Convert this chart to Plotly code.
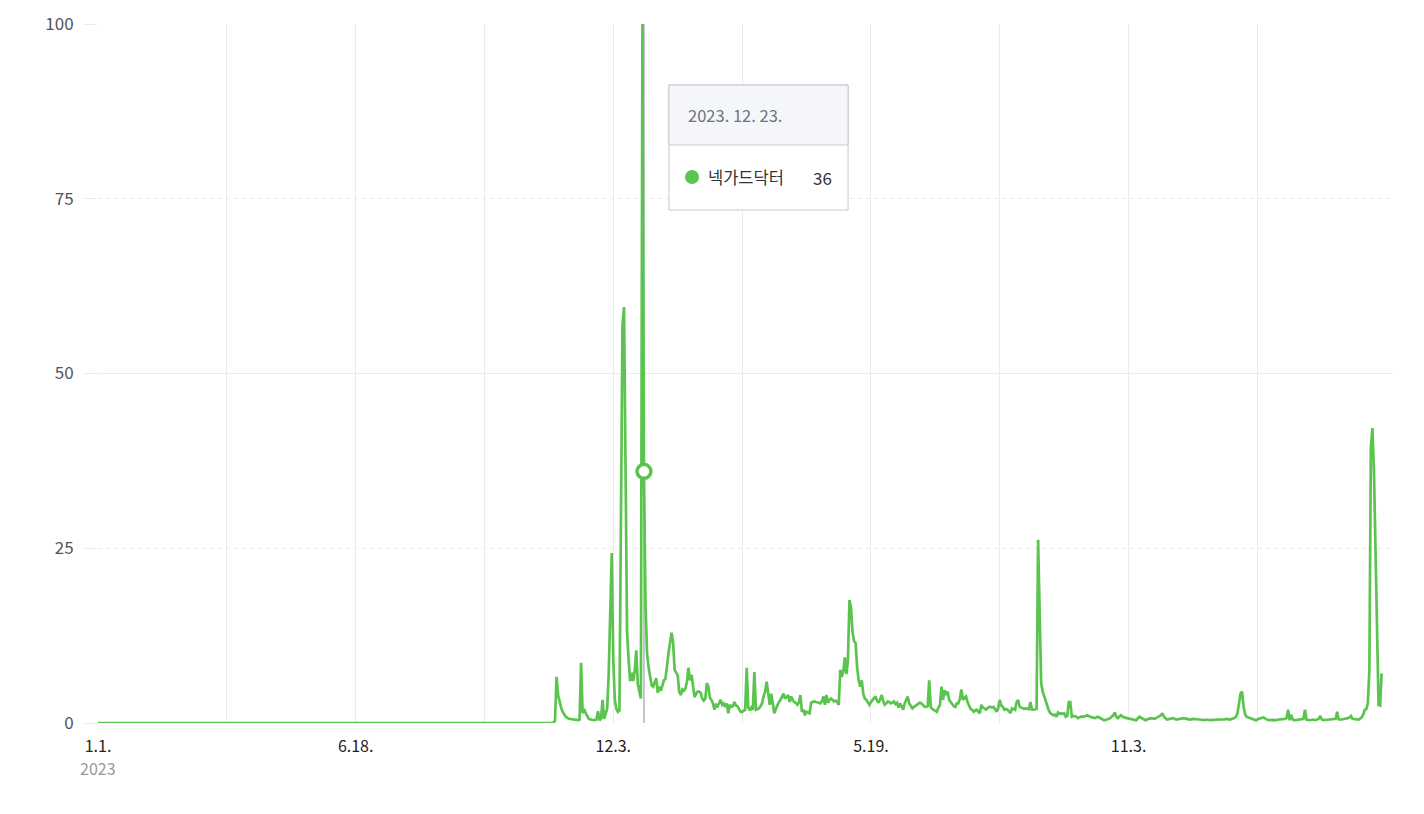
import pandas as pd
import plotly.graph_objects as go

# ---------------- data ----------------
SERIES_NAME = "넥가드닥터"
BASE_DATE = "2023-01-01"

# sparse readings before launch (days since BASE_DATE)
zero_days = [0, 31, 59, 90, 120, 151, 181, 212, 243, 273, 290, 297]
zero_values = [0, 0, 0, 0, 0, 0, 0, 0, 0, 0, 0, 0]

# late 2023 (days since BASE_DATE)
launch_days = [298, 299, 300, 301, 302, 303, 305, 307,
               310, 313, 314, 315, 316, 317, 318, 320, 323, 325,
               326, 327, 328, 329, 330, 331, 332, 333, 334, 335,
               336, 337, 338, 339, 340, 341, 342, 343, 344, 345,
               346, 347, 348, 349, 350, 351, 352, 353, 354, 355,
               356, 357, 358, 359, 360, 361, 362, 363, 364]
launch_values = [0.3, 6.6, 4.0, 3.0, 2.2, 1.6, 0.9, 0.6,
                 0.5, 0.4, 0.5, 8.6, 1.4, 2.0, 1.4, 0.6, 0.4, 0.5,
                 1.7, 0.4, 0.6, 3.3, 0.6, 1.2, 2.0, 7.0, 17.0, 24.3,
                 9.0, 3.3, 2.0, 1.6, 1.8, 30, 57, 59.5, 30, 13,
                 9, 6.0, 7.2, 6.0, 7.5, 10.4, 5.5, 4.5, 3.5, 100,
                 36, 17, 10, 8, 6.6, 5.4, 5.2, 5.8, 6.4]

# daily readings 2024-01-01 .. 2024-09-27
daily_2024_start = "2024-01-01"
daily_2024_values = [
    4.3, 5.2, 4.6, 5.5, 6.1, 6.3, 8.6, 10.0, 11.5, 12.9,
    11.5, 7.6, 7.2, 6.8, 4.5, 4.0, 4.8, 4.6, 4.9, 5.9,
    7.9, 6.1, 6.9, 5.0, 3.7, 4.2, 4.5, 4.5, 4.3, 3.5,
    3.2, 3.5, 5.7, 5.2, 3.6, 3.3, 2.8, 1.9, 2.6, 2.4,
    2.8, 3.3, 2.6, 2.8, 2.3, 2.8, 1.4, 2.6, 2.3, 2.4,
    3.0, 2.5, 2.4, 2.0, 1.6, 1.6, 1.8, 1.9, 7.9, 2.2,
    1.8, 2.2, 1.9, 7.3, 1.9, 2.0, 2.1, 2.4, 2.8, 3.8,
    4.5, 5.9, 3.8, 2.6, 4.2, 3.0, 1.4, 2.0, 2.6, 3.0,
    3.3, 3.8, 4.2, 3.5, 3.7, 4.0, 3.0, 3.8, 3.3, 3.0,
    2.9, 2.6, 2.9, 4.0, 1.6, 1.9, 1.1, 1.6, 1.5, 1.4,
    2.9, 3.0, 3.1, 3.0, 3.0, 2.9, 2.8, 3.1, 3.8, 2.6,
    4.0, 2.9, 3.3, 3.5, 3.3, 3.1, 3.2, 3.0, 2.6, 7.6,
    6.6, 7.4, 9.4, 7.0, 9.0, 17.6, 16.5, 13.0, 11.7, 11.4,
    8.0, 6.1, 5.2, 6.1, 4.2, 3.5, 3.3, 3.0, 2.6, 3.0,
    3.3, 3.5, 3.8, 3.2, 2.9, 3.4, 4.0, 3.1, 2.6, 2.8,
    3.1, 3.0, 2.8, 2.9, 3.1, 2.7, 2.9, 2.2, 2.8, 2.4,
    1.9, 2.8, 3.2, 3.8, 2.8, 2.4, 2.1, 2.3, 2.4, 2.6,
    2.8, 2.9, 2.8, 2.5, 2.3, 2.3, 2.4, 6.1, 2.3, 2.0,
    1.9, 1.7, 1.6, 2.2, 2.6, 5.2, 3.3, 4.7, 4.0, 4.5,
    3.3, 3.0, 2.6, 2.4, 2.3, 2.8, 2.8, 3.5, 4.8, 3.3,
    3.6, 3.8, 3.0, 2.4, 2.0, 1.9, 1.6, 1.8, 1.9, 1.6,
    1.4, 2.6, 2.2, 2.1, 1.9, 2.1, 2.3, 2.3, 2.2, 2.3,
    2.0, 1.6, 2.2, 3.3, 2.5, 2.3, 1.9, 2.0, 1.9, 1.6,
    1.4, 2.1, 2.0, 1.9, 3.0, 3.3, 2.3, 2.2, 2.1, 2.0,
    2.1, 2.1, 2.0, 3.0, 1.9, 1.9, 1.9, 2.0, 26.2, 13,
    5.7, 4.5, 3.8, 3.0, 2.4, 1.8, 1.4, 1.3, 1.1, 1.2,
    0.9, 1.5, 1.3, 1.4, 1.3, 1.4, 0.9, 1.0, 3.0, 3.0,
    0.9,
]

# later readings (days since BASE_DATE)
tail_days = [636, 638, 639, 641, 643, 645, 647, 649, 650, 652,
             654, 656, 658, 660, 662, 663, 664, 665, 667, 669,
             671, 673, 675, 677, 679, 681, 683, 685, 687, 689,
             691, 693, 694, 695, 697, 699, 701, 703, 706, 708,
             710, 712, 714, 716, 718, 721, 723, 725, 727, 729,
             731, 734, 736, 738, 740, 741, 742, 743, 744, 745,
             746, 747, 748, 749, 751, 753, 755, 757, 759, 760,
             762, 764, 766, 768, 770, 772, 774, 775, 776, 777,
             778, 779, 780, 782, 784, 786, 787, 788, 790, 792,
             794, 796, 797, 798, 799, 801, 803, 805, 807, 808,
             809, 811, 813, 815, 816, 817, 818, 820, 822, 824,
             825, 826, 827, 828, 829, 830, 831, 832, 833, 834,
             835, 836, 837]
tail_values = [1.0, 0.9, 0.7, 0.9, 0.9, 1.1, 0.9, 0.8, 0.7, 0.9,
               0.7, 0.4, 0.5, 0.7, 1.1, 1.5, 0.9, 0.7, 1.1, 0.8,
               0.7, 0.6, 0.4, 0.4, 0.9, 0.7, 0.4, 0.6, 0.7, 0.6,
               0.8, 1.1, 1.4, 0.9, 0.5, 0.6, 0.7, 0.5, 0.6, 0.7,
               0.6, 0.5, 0.6, 0.5, 0.5, 0.4, 0.5, 0.4, 0.45, 0.4,
               0.5, 0.5, 0.6, 0.5, 0.6, 0.7, 0.9, 1.4, 2.8, 4.2,
               4.5, 2.3, 1.2, 0.9, 0.7, 0.5, 0.4, 0.6, 0.8, 0.8,
               0.5, 0.4, 0.45, 0.4, 0.5, 0.5, 0.6, 0.7, 1.9, 0.4,
               1.2, 0.5, 0.4, 0.45, 0.5, 0.6, 1.9, 0.5, 0.4, 0.5,
               0.4, 0.6, 1.0, 0.5, 0.4, 0.5, 0.5, 0.55, 0.6, 1.6,
               0.5, 0.5, 0.55, 0.7, 0.8, 1.0, 0.6, 0.5, 0.5, 0.8,
               1.2, 1.9, 2.0, 2.8, 7.5, 39.5, 42.2, 36, 24, 12,
               2.6, 2.5, 7.1]

# axis ticks
x_grid_dates = ["2023-01-01", "2023-03-26", "2023-06-18", "2023-09-10", "2023-12-03",
                "2024-02-25", "2024-05-19", "2024-08-11", "2024-11-03", "2025-01-26"]
x_tick_labels = ["1.1.", "", "6.18.", "", "12.3.", "", "5.19.", "", "11.3.", ""]
first_year_label = "2023"
y_ticks = [0, 25, 50, 75, 100]
y_solid_ticks = [0, 50, 100]

# highlighted (tooltip) point
highlight_date = "2023-12-23"
highlight_label = "2023. 12. 23."
x_range = ["2023-01-01", "2025-04-24 10:00"]

# ---------------- build ----------------
base = pd.Timestamp(BASE_DATE)
dates = list(base + pd.to_timedelta(zero_days, unit="D"))
dates += list(base + pd.to_timedelta(launch_days, unit="D"))
dates += list(pd.date_range(daily_2024_start, periods=len(daily_2024_values), freq="D"))
dates += list(base + pd.to_timedelta(tail_days, unit="D"))
values = zero_values + launch_values + daily_2024_values + tail_values

df = pd.DataFrame({"date": dates, "value": values})
hl = df[df["date"] == pd.Timestamp(highlight_date)].iloc[0]

GREEN = "#5ac44e"
GRID = "#ebebeb"
FONT = "Noto Sans CJK KR"

fig = go.Figure()
fig.add_trace(go.Scatter(
    x=df["date"], y=df["value"], mode="lines", name=SERIES_NAME,
    line=dict(color=GREEN, width=2.7), hoverinfo="skip", showlegend=False,
))
fig.add_trace(go.Scatter(
    x=[hl["date"]], y=[hl["value"]], mode="markers", name=SERIES_NAME,
    marker=dict(size=14, color="white", line=dict(color=GREEN, width=3.5)),
    hoverinfo="skip", showlegend=False,
))

# crosshair
fig.add_shape(type="line", xref="x", yref="y", x0=hl["date"], x1=hl["date"], y0=0, y1=100,
              line=dict(color="#aeb5c3", width=1.5), layer="below")

# tooltip box (paper coordinates)
tx0, tx1 = 0.4409, 0.5792
ty0, ty1, tsep = 0.7339, 0.9127, 0.8269
fig.add_shape(type="rect", xref="paper", yref="paper", x0=tx0, x1=tx1, y0=ty0, y1=ty1,
              fillcolor="white", line=dict(color="#c9c9c9", width=1), layer="above")
fig.add_shape(type="rect", xref="paper", yref="paper", x0=tx0, x1=tx1, y0=tsep, y1=ty1,
              fillcolor="#f5f6f9", line=dict(color="#c9c9c9", width=1), layer="above")
fig.add_shape(type="circle", xref="paper", yref="paper",
              x0=0.4587 - 0.0054, x1=0.4587 + 0.0054, y0=0.7811 - 0.0100, y1=0.7811 + 0.0100,
              fillcolor=GREEN, line=dict(color=GREEN, width=0), layer="above")
fig.add_annotation(xref="paper", yref="paper", x=0.4540, y=0.8698, xanchor="left", yanchor="middle",
                   text=highlight_label, showarrow=False,
                   font=dict(family=FONT, size=16.5, color="#6b7482"))
fig.add_annotation(xref="paper", yref="paper", x=0.4695, y=0.7811, xanchor="left", yanchor="middle",
                   text=SERIES_NAME, showarrow=False,
                   font=dict(family=FONT, size=16.5, color="#333333"))
fig.add_annotation(xref="paper", yref="paper", x=0.5685, y=0.7811, xanchor="right", yanchor="middle",
                   text=f"{hl['value']:g}", showarrow=False,
                   font=dict(family=FONT, size=17, color="#333333"))

# year under the first date label
fig.add_annotation(xref="x", yref="paper", x=x_grid_dates[0], y=0, yanchor="top", yshift=-31,
                   text=first_year_label, showarrow=False,
                   font=dict(family=FONT, size=16, color="#9a9a9a"))

# page body has an 8px margin: size the figure to fit the 1424x814 window
fig.update_layout(
    width=1408, height=798,
    margin=dict(l=90, r=23, t=16, b=83, autoexpand=False),
    paper_bgcolor="white", plot_bgcolor="white",
    font=dict(family=FONT),
    showlegend=False,
    hovermode=False,
)
fig.update_xaxes(
    type="date", range=x_range, automargin=False,
    tickmode="array", tickvals=x_grid_dates, ticktext=x_tick_labels,
    showgrid=True, gridcolor=GRID, gridwidth=1,
    showline=False, zeroline=False, ticks="",
    ticklabelstandoff=12,
    tickfont=dict(family=FONT, size=16, color="#222222"),
)
fig.update_yaxes(
    range=[0, 100], tickmode="array", tickvals=y_ticks, automargin=False,
    showgrid=True, gridcolor=GRID, gridwidth=1, griddash="4px,4px",
    ticks="outside", ticklen=13, tickcolor=GRID, tickwidth=1,
    minor=dict(tickmode="array", tickvals=y_solid_ticks, showgrid=True, gridcolor=GRID,
               griddash="solid", gridwidth=1, ticks="outside", ticklen=13, tickcolor=GRID),
    showline=False, zeroline=False,
    ticklabelstandoff=7,
    tickfont=dict(family=FONT, size=17, color="#555555"),
)

fig.write_html("out.html")
